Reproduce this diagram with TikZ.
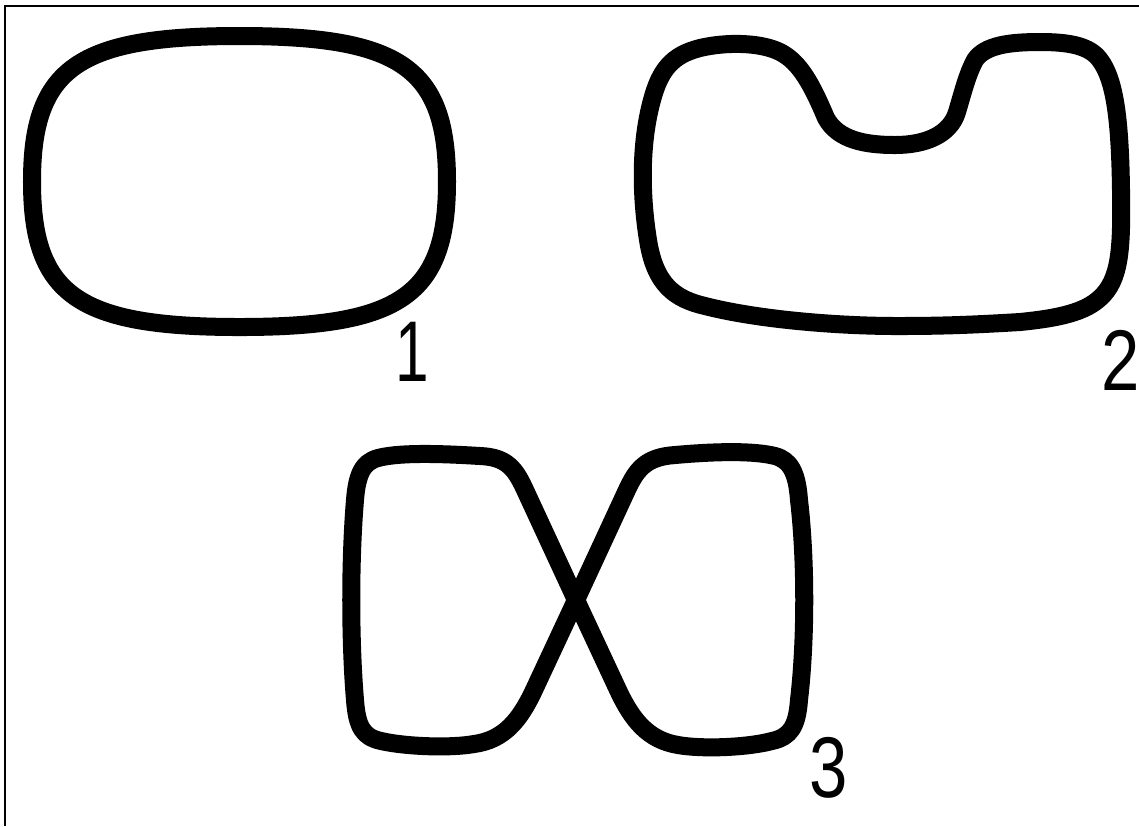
\documentclass[tikz,border=0pt]{standalone}
\usepackage{fontspec}
\setmainfont{Liberation Sans}
\usetikzlibrary{positioning}
\tikzset{
  loopline/.style={line width=0.18cm, draw=black, line join=round},
  frameline/.style={line width=0.65pt, draw=black},
  numlabel/.style={inner sep=0pt, font=\fontsize{24.5}{24.5}\selectfont},
}

\begin{document}
\begin{tikzpicture}[x=0.01cm, y=-0.01cm]
  \useasboundingbox (0,0) rectangle (1139,826);
  \draw[frameline] (5,826) -- (5,6) -- (1139,6);

  % loop 1
  \draw[loopline] (447,181.5) .. controls (447,68) and (401,36) .. (239.5,36)
    .. controls (78,36) and (32,68) .. (32,181.5)
    .. controls (32,295) and (78,327) .. (239.5,327)
    .. controls (401,327) and (447,295) .. (447,181.5) -- cycle;

  % loop 2
  \draw[loopline] (897,326) .. controls (840,326) and (760,320) .. (705,306)
    .. controls (675,299) and (655,285) .. (648,240)
    .. controls (640,190) and (641,140) .. (652,100)
    .. controls (660,70) and (672,55) .. (700,48)
    .. controls (725,42) and (760,42) .. (780,52)
    .. controls (800,62) and (812,85) .. (826,118)
    .. controls (838,140) and (865,145) .. (895,145)
    .. controls (925,145) and (950,135) .. (957,112)
    .. controls (963,92) and (967,75) .. (975,60)
    .. controls (985,45) and (1010,42) .. (1040,42)
    .. controls (1070,42) and (1090,46) .. (1100,60)
    .. controls (1115,80) and (1120,120) .. (1121,190)
    .. controls (1122,250) and (1120,280) .. (1100,298)
    .. controls (1085,312) and (1060,318) .. (1020,322)
    .. controls (970,325) and (940,326) .. (897,326) -- cycle;

  % loop 3
  \draw[loopline] (576,600) -- (626,492)
    .. controls (636,470) and (645,457) .. (675,455)
    .. controls (720,451) and (755,451) .. (775,456)
    .. controls (790,460) and (797,472) .. (799,500)
    .. controls (806,560) and (806,640) .. (799,700)
    .. controls (797,727) and (790,737) .. (772,741)
    .. controls (745,748) and (700,749) .. (678,745)
    .. controls (648,740) and (632,720) .. (618,690)
    -- (576,600) -- (526,492)
    .. controls (516,470) and (508,457) .. (480,456)
    .. controls (432,453) and (397,453) .. (378,458)
    .. controls (363,462) and (357,474) .. (355,500)
    .. controls (350,560) and (350,640) .. (355,700)
    .. controls (357,727) and (363,737) .. (381,741)
    .. controls (408,747) and (452,748) .. (474,744)
    .. controls (504,740) and (520,720) .. (534,690) -- cycle;

  \node[numlabel] (n1) at (412,352) {\scalebox{0.7}[1]{1}};
  \node[numlabel] (n2) at (1121,360) {\scalebox{0.8}[1]{2}};
  \node[numlabel] (n3) at (829,768) {\scalebox{0.8}[1]{3}};
\end{tikzpicture}
\end{document}
